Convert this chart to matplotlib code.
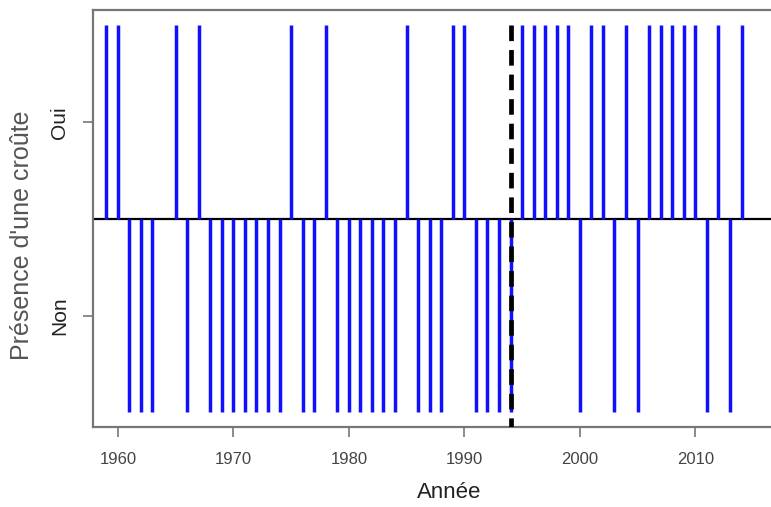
import matplotlib.pyplot as plt

plt.rcParams['font.family'] = ['Liberation Sans', 'DejaVu Sans']

# 1 = Oui, 0 = Non, None = pas de donnée
years = list(range(1959, 2015))
presence = [1, 1, 0, 0, 0, None, 1, 0, 1, 0,   # 1959-1968
            0, 0, 0, 0, 0, 0, 1, 0, 0, 1,      # 1969-1978
            0, 0, 0, 0, 0, 0, 1, 0, 0, 0,      # 1979-1988
            1, 1, 0, 0, 0, 0, 1, 1, 1, 1,      # 1989-1998
            1, 0, 1, 1, 0, 1, 0, 1, 1, 1,      # 1999-2008
            1, 1, 0, 1, 0, 1]                  # 2009-2014
rupture = 1994
xticks = [1960, 1970, 1980, 1990, 2000, 2010]

fig = plt.figure(figsize=(7.71, 5.07), dpi=100)
ax = fig.add_axes([93 / 771, 1 - 427 / 507, 1 - 93 / 771, 417 / 507])

ax.axhline(0.5, color='black', lw=1.6, zorder=2)
for y, p in zip(years, presence):
    if p is None:
        continue
    top = 1.5 if p == 1 else -0.5
    ax.plot([y, y], [0.5, top], color='#1010ff', lw=2.5, solid_capstyle='butt', zorder=3)

ax.plot([rupture, rupture], [1.5, -0.7], color='black', lw=3.4,
        linestyle=(0, (3.3, 1.9)), zorder=4)

ax.set_xlim(1957.85, 2016.55)
ax.set_ylim(-0.575, 1.58)
ax.set_xticks(xticks)
ax.set_xticklabels([str(t) for t in xticks], fontsize=12, color='#444444')
ax.set_yticks([0, 1])
ax.set_yticklabels(['Non', 'Oui'], rotation=90, va='center', fontsize=15, color='#222222')
ax.tick_params(axis='x', length=7, width=1.2, color='#777777', pad=11)
ax.tick_params(axis='y', length=7, width=1.2, color='#777777', pad=10)

for side in ['left', 'bottom', 'top']:
    ax.spines[side].set_color('#777777')
    ax.spines[side].set_linewidth(1.6)
ax.spines['right'].set_visible(False)

ax.set_xlabel('Année', fontsize=16, color='#222222')
ax.xaxis.set_label_coords((449 - 93) / (771 - 93), -0.133)
ax.set_ylabel("Présence d'une croûte", fontsize=18, color='#555555')
ax.yaxis.set_label_coords(-0.087, 0.46)

plt.savefig('out.png', dpi=100)
